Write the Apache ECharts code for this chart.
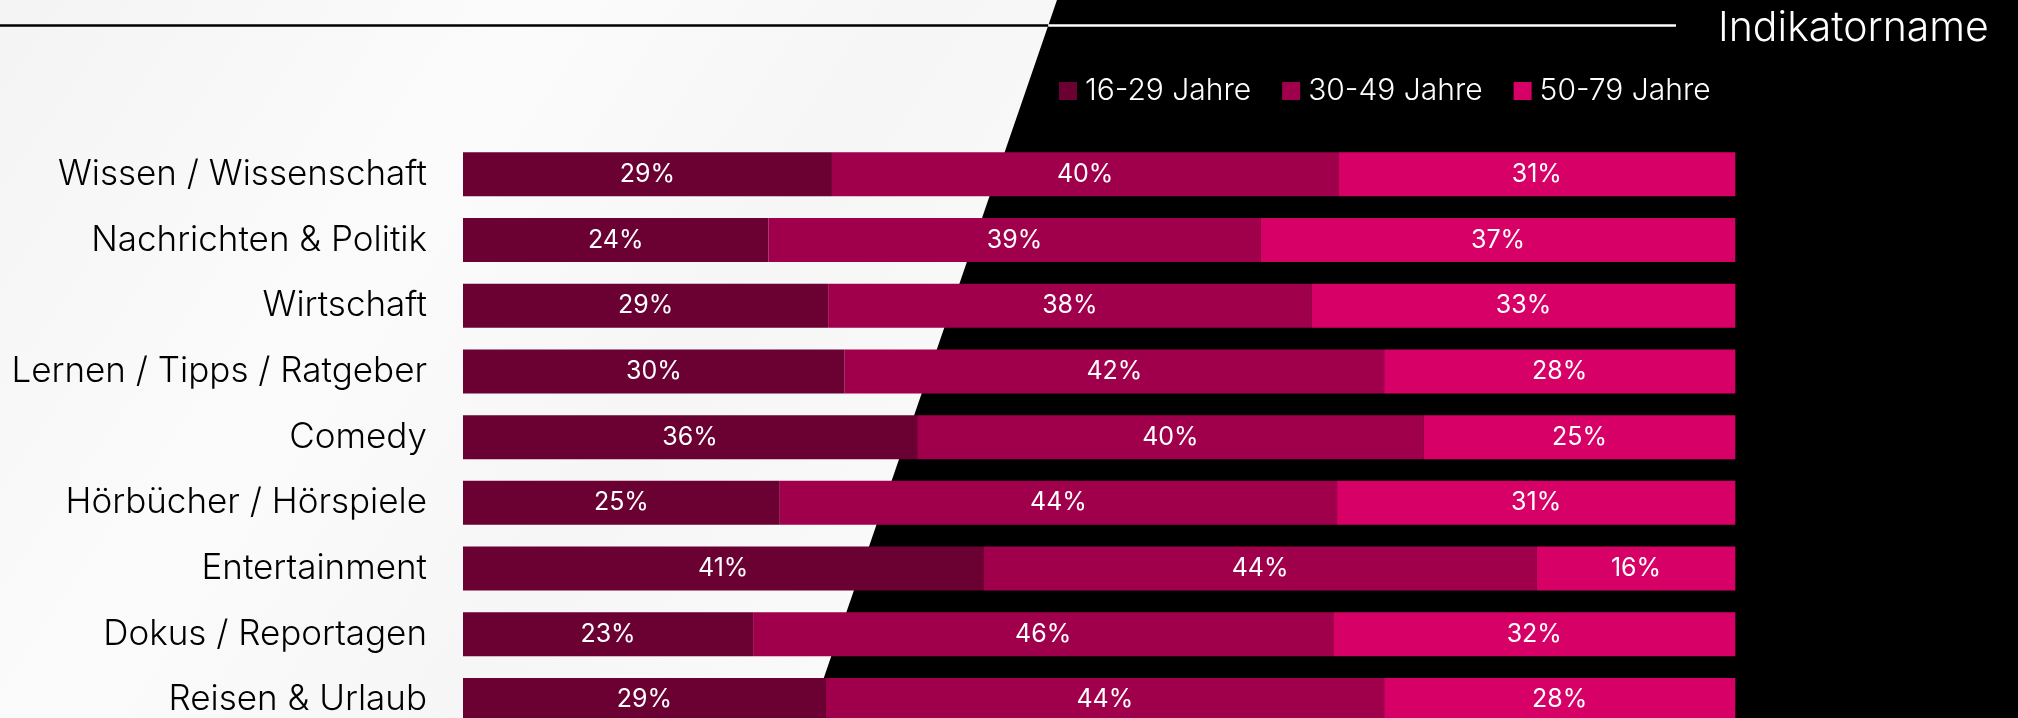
<!DOCTYPE html>
<html>
<head>
<meta charset="utf-8">
<style>
html,body{margin:0;padding:0;background:#000;}
#chart{width:2018px;height:718px;}
</style>
<script src="https://cdn.jsdelivr.net/npm/echarts@6/dist/echarts.min.js"></script>
</head>
<body>
<div id="chart"></div>
<script>
// ---- data ----
const categories = ['Wissen / Wissenschaft','Nachrichten & Politik','Wirtschaft','Lernen / Tipps / Ratgeber','Comedy','Hörbücher / Hörspiele','Entertainment','Dokus / Reportagen','Reisen & Urlaub'];
const seriesNames = ['16-29 Jahre','30-49 Jahre','50-79 Jahre'];
const age16to29 = [29.0, 24.0, 28.7, 30.0, 35.7, 24.9, 40.9, 22.8, 28.5];
const age30to49 = [39.8, 38.7, 38.0, 42.4, 39.8, 43.8, 43.5, 45.6, 43.9];
const age50to79 = [31.2, 37.3, 33.3, 27.6, 24.5, 31.3, 15.6, 31.6, 27.6];
const titleText = 'Indikatorname';

const colors = ['#6b0032','#a0004b','#d60066'];
const chart = echarts.init(document.getElementById('chart'), null, {renderer:'canvas'});

const mkSeries = (name, data, color) => ({
  name, type:'bar', stack:'total', data, barWidth:44,
  itemStyle:{color},
  label:{show:true, position:'inside', color:'#fff', fontFamily:'Inter', fontSize:25, fontWeight:400,
    formatter: p => Math.round(p.value) + '%'}
});

chart.setOption({
  backgroundColor:'#000',
  animation:false,
  title:{text:titleText, left:1713, top:3, textStyle:{color:'#fff', fontFamily:'Inter', fontSize:41, fontWeight:300}},
  legend:{data:seriesNames, left:1054, top:71, itemWidth:18, itemHeight:18, itemGap:31, icon:'rect',
    textStyle:{color:'#fff', fontFamily:'Inter', fontSize:30, fontWeight:300, lineHeight:26, padding:[0,0,0,3]}},
  grid:{left:463, width:1272.3, top:141.5, height:591.3, containLabel:false, outerBoundsMode:'none'},
  xAxis:{type:'value', min:0, max:100, show:false},
  yAxis:{type:'category', data:categories, inverse:true,
    axisLine:{show:false}, axisTick:{show:false}, splitLine:{show:false},
    axisLabel:{margin:36, color:'#000', fontFamily:'Inter', fontSize:35, fontWeight:300, padding:[4,0,0,0]}},
  graphic:[
    {type:'polygon', z:-10, silent:true,
      shape:{points:[[0,0],[1057,0],[810,718],[0,718]]},
      style:{fill:new echarts.graphic.LinearGradient(0,0,1,1,[
        {offset:0,color:'#f4f4f4'},{offset:0.35,color:'#fbfbfb'},{offset:0.6,color:'#f6f6f6'},{offset:1,color:'#fcfcfc'}])}},
    {type:'line', z:-5, silent:true, shape:{x1:0,y1:25.5,x2:1048.2,y2:25.5}, style:{stroke:'#000', lineWidth:2.5}},
    {type:'line', z:-5, silent:true, shape:{x1:1048.2,y1:25.5,x2:1676,y2:25.5}, style:{stroke:'#fff', lineWidth:2.5}}
  ],
  series:[
    mkSeries(seriesNames[0], age16to29, colors[0]),
    mkSeries(seriesNames[1], age30to49, colors[1]),
    mkSeries(seriesNames[2], age50to79, colors[2])
  ]
});
</script>
</body>
</html>
